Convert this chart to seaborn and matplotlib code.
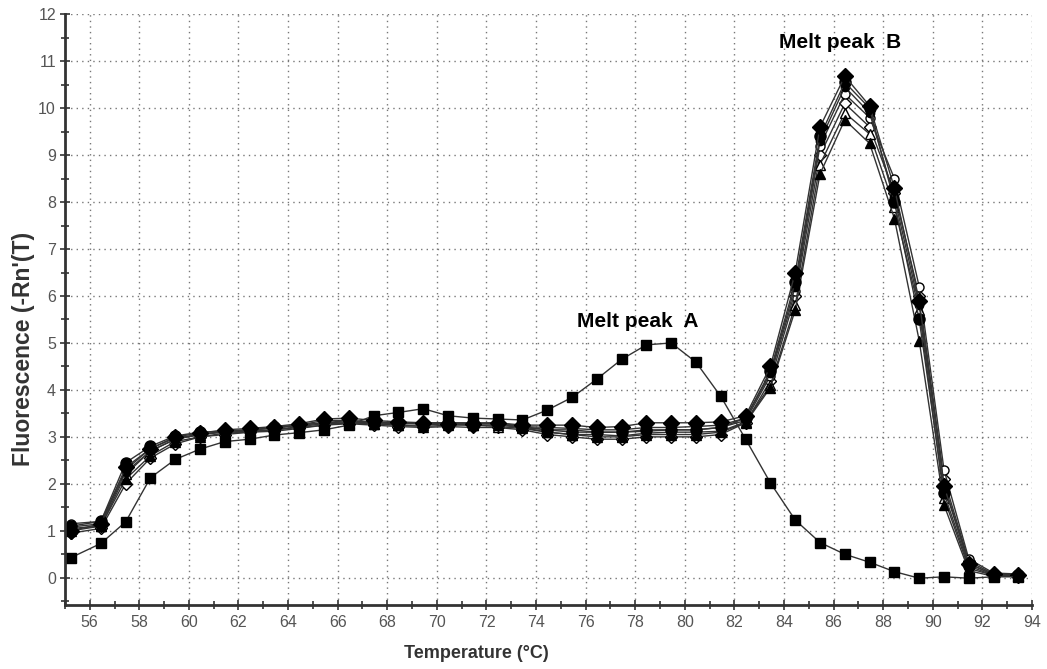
import numpy as np
import pandas as pd
import seaborn as sns
import matplotlib.pyplot as plt
from matplotlib.ticker import MultipleLocator

# Temperatures of the melt curve read points (deg C)
temps = [55.25, 56.45, 57.45, 58.45, 59.45, 60.45, 61.45, 62.45, 63.45, 64.45,
         65.45, 66.45, 67.45, 68.45, 69.45, 70.45, 71.45, 72.45, 73.45, 74.45,
         75.45, 76.45, 77.45, 78.45, 79.45, 80.45, 81.45, 82.45, 83.45, 84.45,
         85.45, 86.45, 87.45, 88.45, 89.45, 90.45, 91.45, 92.45, 93.45]

# sample with melt peak A (squares)
sample_a = [0.43, 0.73, 1.19, 2.13, 2.52, 2.74, 2.90, 2.95, 3.04, 3.09,
            3.15, 3.25, 3.45, 3.52, 3.60, 3.45, 3.40, 3.38, 3.36, 3.57,
            3.84, 4.23, 4.65, 4.96, 5.00, 4.59, 3.86, 2.95, 2.02, 1.23,
            0.75, 0.50, 0.33, 0.13, -0.01, 0.02, -0.01, 0.02, 0.02]

# samples with melt peak B
sample_b1 = [1.00, 1.15, 2.35, 2.75, 3.00, 3.08, 3.15, 3.18, 3.22, 3.28,
             3.38, 3.40, 3.35, 3.32, 3.30, 3.28, 3.28, 3.30, 3.25, 3.25,
             3.25, 3.20, 3.22, 3.30, 3.30, 3.30, 3.32, 3.45, 4.50, 6.50,
             9.60, 10.68, 10.05, 8.30, 5.90, 1.95, 0.30, 0.07, 0.05]
sample_b2 = [1.10, 1.20, 2.45, 2.80, 3.02, 3.10, 3.12, 3.15, 3.20, 3.25,
             3.35, 3.35, 3.30, 3.30, 3.28, 3.30, 3.30, 3.30, 3.22, 3.15,
             3.10, 3.10, 3.10, 3.15, 3.15, 3.15, 3.20, 3.40, 4.40, 6.30,
             9.40, 10.55, 10.00, 8.00, 5.50, 1.80, 0.25, 0.05, 0.05]
sample_b3 = [1.05, 1.10, 2.10, 2.60, 2.90, 3.00, 3.08, 3.10, 3.15, 3.20,
             3.25, 3.30, 3.28, 3.25, 3.22, 3.25, 3.25, 3.25, 3.20, 3.10,
             3.05, 3.00, 3.00, 3.05, 3.05, 3.05, 3.10, 3.30, 4.05, 5.70,
             8.60, 9.75, 9.25, 7.65, 5.05, 1.55, 0.15, 0.03, 0.03]
sample_b4 = [1.15, 1.20, 2.30, 2.75, 2.98, 3.05, 3.12, 3.15, 3.18, 3.25,
             3.30, 3.32, 3.30, 3.28, 3.30, 3.30, 3.28, 3.28, 3.20, 3.15,
             3.15, 3.10, 3.10, 3.12, 3.15, 3.15, 3.20, 3.35, 4.30, 6.10,
             9.20, 10.30, 9.80, 8.50, 6.20, 2.30, 0.40, 0.10, 0.08]
sample_b5 = [0.95, 1.05, 2.00, 2.55, 2.85, 3.00, 3.05, 3.10, 3.12, 3.18,
             3.25, 3.28, 3.25, 3.22, 3.20, 3.22, 3.20, 3.20, 3.15, 3.05,
             3.00, 2.95, 2.95, 3.00, 3.00, 3.00, 3.05, 3.30, 4.20, 6.00,
             9.00, 10.10, 9.60, 8.20, 6.00, 2.10, 0.35, 0.08, 0.06]
sample_b6 = [1.00, 1.10, 2.20, 2.70, 2.95, 3.05, 3.10, 3.12, 3.15, 3.22,
             3.28, 3.30, 3.28, 3.25, 3.25, 3.28, 3.25, 3.22, 3.18, 3.10,
             3.05, 3.05, 3.02, 3.08, 3.10, 3.10, 3.12, 3.32, 4.10, 5.80,
             8.80, 9.90, 9.45, 7.90, 5.70, 1.70, 0.20, 0.05, 0.04]
sample_b7 = [1.08, 1.15, 2.25, 2.70, 2.95, 3.05, 3.12, 3.14, 3.20, 3.25,
             3.30, 3.35, 3.32, 3.30, 3.30, 3.30, 3.28, 3.28, 3.22, 3.20,
             3.18, 3.15, 3.15, 3.20, 3.20, 3.22, 3.25, 3.40, 4.35, 6.20,
             9.30, 10.45, 9.90, 8.10, 5.80, 2.00, 0.30, 0.06, 0.05]

# (values, marker, face colour, marker size)
series = [
    (sample_b5, 'D', 'white', 6),
    (sample_b4, 'o', 'white', 6.5),
    (sample_b6, '^', 'white', 6.5),
    (sample_b3, '^', 'black', 7),
    (sample_b7, 'o', 'black', 6),
    (sample_b2, 'o', 'black', 8),
    (sample_b1, 'D', 'black', 8),
    (sample_a, 's', 'black', 7.5),
]

sns.set_style("white")
plt.rcParams['font.family'] = ['Liberation Sans', 'DejaVu Sans']

fig = plt.figure(figsize=(10.47, 6.69), dpi=100)
ax = fig.add_axes([0.062, 0.0957, 0.9237, 0.883])

for vals, mk, fc, ms in series:
    df = pd.DataFrame({'Temperature': temps, 'Fluorescence': vals})
    sns.lineplot(data=df, x='Temperature', y='Fluorescence', ax=ax,
                 color='#333333', linewidth=1.0, marker=mk, markersize=ms,
                 markerfacecolor=fc, markeredgecolor='black',
                 markeredgewidth=1.0, sort=False)

ax.set_xlim(55, 94)
ax.set_ylim(-0.58, 12)
ax.xaxis.set_minor_locator(MultipleLocator(1))
ax.yaxis.set_minor_locator(MultipleLocator(0.5))
ax.set_xticks(np.arange(56, 95, 2))
ax.set_yticks(np.arange(0, 13, 1))

ax.grid(True, which='major', linestyle=(0, (1, 3)), color='#777777', linewidth=1.0)
ax.tick_params(which='both', direction='inout', colors='#333333', length=7, width=1.2,
               labelsize=11.5, labelcolor='#555555', bottom=True, left=True)
ax.tick_params(which='minor', length=6)
ax.tick_params(axis='y', pad=3)

for side in ['top', 'right']:
    ax.spines[side].set_visible(False)
for side in ['left', 'bottom']:
    ax.spines[side].set_color('#333333')
    ax.spines[side].set_linewidth(2)

ax.set_xlabel('Temperature (°C)', fontsize=13, fontweight='bold', color='#333333')
ax.set_ylabel("Fluorescence (-Rn'(T)", fontsize=16.5, fontweight='bold', color='#333333')
ax.xaxis.set_label_coords(0.425, -0.068)
ax.yaxis.set_label_coords(-0.031, 0.433)

ax.text(78.1, 5.45, 'Melt peak  A', fontsize=15, fontweight='bold', color='black',
        ha='center', va='center')
ax.text(86.25, 11.39, 'Melt peak  B', fontsize=15, fontweight='bold', color='black',
        ha='center', va='center')

fig.savefig('out.png', dpi=100)
